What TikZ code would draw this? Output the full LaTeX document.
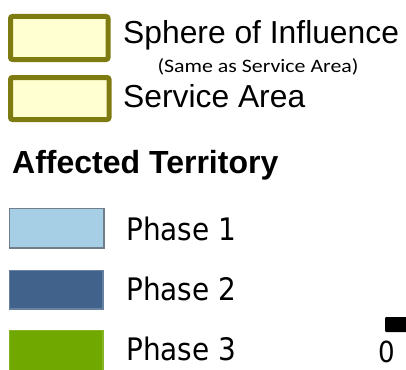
\documentclass[tikz,border=0pt]{standalone}
\usepackage{fontspec}
\usepackage{graphicx}
\setmainfont{Liberation Sans}
\newfontfamily\carl{Carlito}
\newfontfamily\tah{DejaVu Sans Condensed}
\definecolor{olivebd}{HTML}{7E7B10}
\definecolor{paleyel}{HTML}{FFFFD2}
\definecolor{ph1}{HTML}{A6CEE4}
\definecolor{ph1bd}{HTML}{6F7E88}
\definecolor{ph2}{HTML}{41628A}
\definecolor{ph3}{HTML}{70A800}
\begin{document}
\begin{tikzpicture}[x=1pt,y=-1pt,
  areabox/.style={draw=olivebd,fill=paleyel,line width=5pt,rounded corners=2pt},
  phbox/.style={line width=1.2pt},
  lbl/.style={anchor=base west,inner sep=0pt,font=\fontsize{31.8}{34}\selectfont},
  phlbl/.style={anchor=base west,inner sep=0pt,font=\tah\fontsize{31}{36}\selectfont}]
\useasboundingbox (0,0) rectangle (406,369);
\fill[white] (0,0) rectangle (406,369);
\draw[areabox] (10.5,16.5) rectangle (108,59.5);
\draw[areabox] (10.5,77.5) rectangle (109,119.5);
\node[lbl] (soi) at (123,44) {Sphere of Influence};
\node[anchor=base,inner sep=0pt,font=\carl\fontsize{19}{20}\selectfont] (same) at (258,72.5) {\scalebox{1.15}[1]{(Same as Service Area)}};
\node[lbl] (sa) at (123,107) {Service Area};
\node[lbl,font=\bfseries\fontsize{32}{34}\selectfont] (aff) at (12,173) {Affected Territory};
\draw[phbox,draw=ph1bd,fill=ph1] (9.5,208.5) rectangle (104,248);
\draw[phbox,draw=ph2!80!white,fill=ph2] (9.5,270.5) rectangle (103,309);
\draw[phbox,draw=ph3!85!white,fill=ph3] (9.5,330.5) rectangle (103,372);
\node[phlbl] (p1) at (126,240) {Phase 1};
\node[phlbl] (p2) at (126,300) {Phase 2};
\node[phlbl] (p3) at (126,360) {Phase 3};
\fill[black,rounded corners=1pt] (385,317) rectangle (408,332);
\node[phlbl,font=\tah\fontsize{29}{32}\selectfont] (zero) at (378,362) {0};
\end{tikzpicture}
\end{document}
